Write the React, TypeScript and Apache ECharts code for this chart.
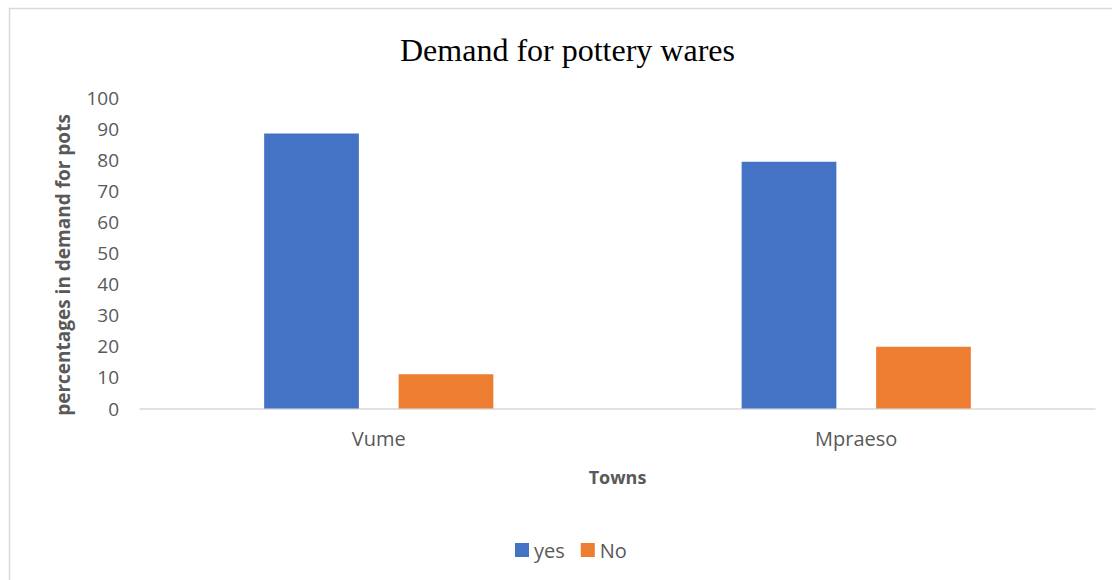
import React, { useEffect, useRef } from "react";
import * as echarts from "echarts";

const towns = ["Vume", "Mpraeso"];
const yesValues = [88.6, 79.5];
const noValues = [11.0, 19.9];
const seriesNames = ["yes", "No"];
const yAxisTitle = "percentages in demand for pots";
const xAxisTitle = "Towns";
const chartTitle = "Demand for pottery wares";

export default function App() {
  const ref = useRef<HTMLDivElement>(null);
  useEffect(() => {
    if (!ref.current) return;
    const chart = echarts.init(ref.current, undefined, { renderer: "svg" });
    const sans = "'Open Sans', 'Liberation Sans', sans-serif";
    chart.setOption({
      animation: false,
      backgroundColor: "#ffffff",
      title: {
        text: chartTitle,
        left: 395,
        top: 29,
        textStyle: {
          fontFamily: "'Liberation Serif', 'DejaVu Serif', serif",
          fontSize: 32,
          fontWeight: "normal",
          color: "#000000",
        },
      },
      graphic: [
        {
          type: "rect",
          shape: { x: 9.5, y: 8.5, width: 1200, height: 700 },
          style: { fill: "none", stroke: "#d9d9d9", lineWidth: 1.5 },
          silent: true,
          z: -1,
        },
        {
          type: "text",
          x: 63,
          y: 265,
          rotation: Math.PI / 2,
          style: {
            text: yAxisTitle,
            fontFamily: sans,
            fontSize: 19,
            fontWeight: "bold",
            fill: "#595959",
            align: "center",
            verticalAlign: "middle",
          },
        },
      ],
      legend: {
        data: seriesNames,
        left: 510,
        top: 535,
        itemWidth: 14,
        itemHeight: 14,
        itemGap: 16,
        icon: "rect",
        textStyle: { fontFamily: sans, fontSize: 20, color: "#595959" },
      },
      grid: { left: 140, right: 17, top: 98, bottom: 171.5, containLabel: false },
      xAxis: {
        type: "category",
        data: towns,
        name: xAxisTitle,
        nameLocation: "middle",
        nameGap: 59,
        nameTextStyle: { fontFamily: sans, fontSize: 18, fontWeight: "bold", color: "#595959" },
        axisLine: { lineStyle: { color: "#d9d9d9", width: 1.5 } },
        axisTick: { show: false },
        axisLabel: { fontFamily: sans, fontSize: 20, color: "#595959", margin: 20 },
      },
      yAxis: {
        type: "value",
        min: 0,
        max: 100,
        interval: 10,
        axisLine: { show: false },
        axisTick: { show: false },
        splitLine: { show: false },
        axisLabel: { fontFamily: sans, fontSize: 19, color: "#595959", margin: 21 },
      },
      series: [
        {
          name: seriesNames[0],
          type: "bar",
          data: yesValues,
          itemStyle: { color: "#4472C4" },
          barGap: "42%",
          barCategoryGap: "52%",
        },
        {
          name: seriesNames[1],
          type: "bar",
          data: noValues,
          itemStyle: { color: "#ED7D31" },
          barGap: "42%",
          barCategoryGap: "52%",
        },
      ],
    });
    return () => chart.dispose();
  }, []);
  return (
    <div
      ref={ref}
      style={{ position: "fixed", left: 0, top: 0, width: 1112, height: 580 }}
    />
  );
}
